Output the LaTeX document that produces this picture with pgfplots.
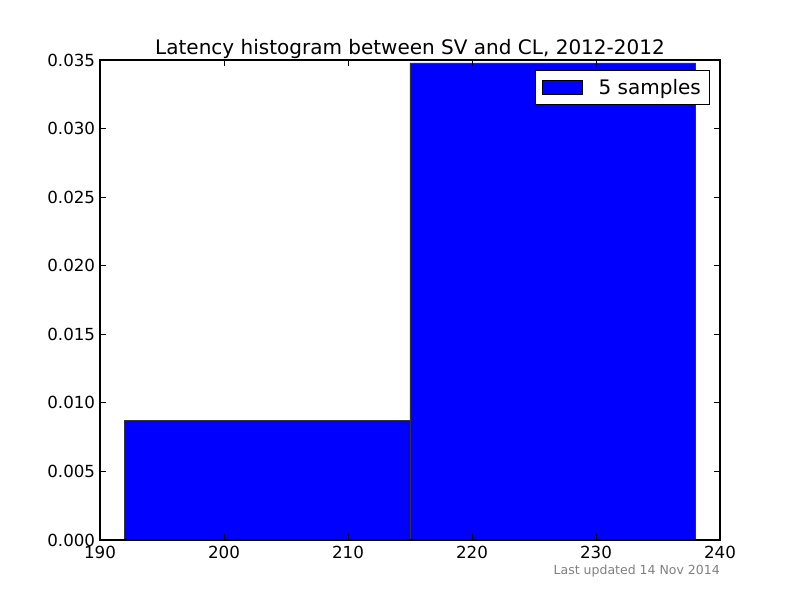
\documentclass[border=0pt]{standalone}
\usepackage{fontspec}
\setmainfont{DejaVu Sans}
\usepackage{pgfplots}
\pgfplotsset{compat=1.18}
\begin{document}
\begin{tikzpicture}
\path[use as bounding box] (0,0) rectangle (576pt,432pt);
\begin{axis}[
  at={(72pt,43.2pt)}, anchor=south west,
  scale only axis, width=446.4pt, height=345.6pt,
  xmin=190, xmax=240, ymin=0, ymax=0.035,
  xtick={190,200,210,220,230,240},
  ytick={0,0.005,0.01,0.015,0.02,0.025,0.03,0.035},
  tick align=inside, major tick length=4pt,
  tick style={black, line width=0.6pt},
  axis line style={line width=0.8pt},
  minor tick num=0,
  /pgf/number format/assume math mode=true,
  ticklabel style={font=\fontsize{12}{14}\selectfont},
  yticklabel style={/pgf/number format/fixed, /pgf/number format/fixed zerofill, /pgf/number format/precision=3, xshift=0pt},
  xticklabel style={/pgf/number format/fixed, yshift=-1pt},
  scaled y ticks=false,
  title={Latency histogram between SV and CL, 2012-2012},
  title style={at={(0.5,1)}, anchor=base, yshift=-2pt, font=\fontsize{14.4}{17}\selectfont},
  legend style={at={(1,1)}, anchor=north east, xshift=-7.2pt, yshift=-7.2pt,
    draw=black, line width=0.8pt, fill=white, font=\fontsize{14.4}{17}\selectfont,
    inner xsep=4.2pt, inner ysep=4pt},
  legend image code/.code={\draw[fill=blue, draw=black, line width=0.6pt] (0pt,-5pt) rectangle (28.8pt,5pt); \path (38pt,0pt) (-0.8pt,0pt);},
  legend cell align=left,
  axis on top,
]
\addplot[ybar interval, fill=blue, draw=black!80, line width=0.6pt] coordinates {
  (192,0.008696) (215,0.034783) (238,0.034783)
};
\addlegendentry{5 samples}
\end{axis}
\node[anchor=base east, inner sep=0pt, text=black!50, font=\fontsize{9}{11}\selectfont] at (518.4pt,18.7pt) {Last updated 14 Nov 2014};
\end{tikzpicture}
\end{document}
